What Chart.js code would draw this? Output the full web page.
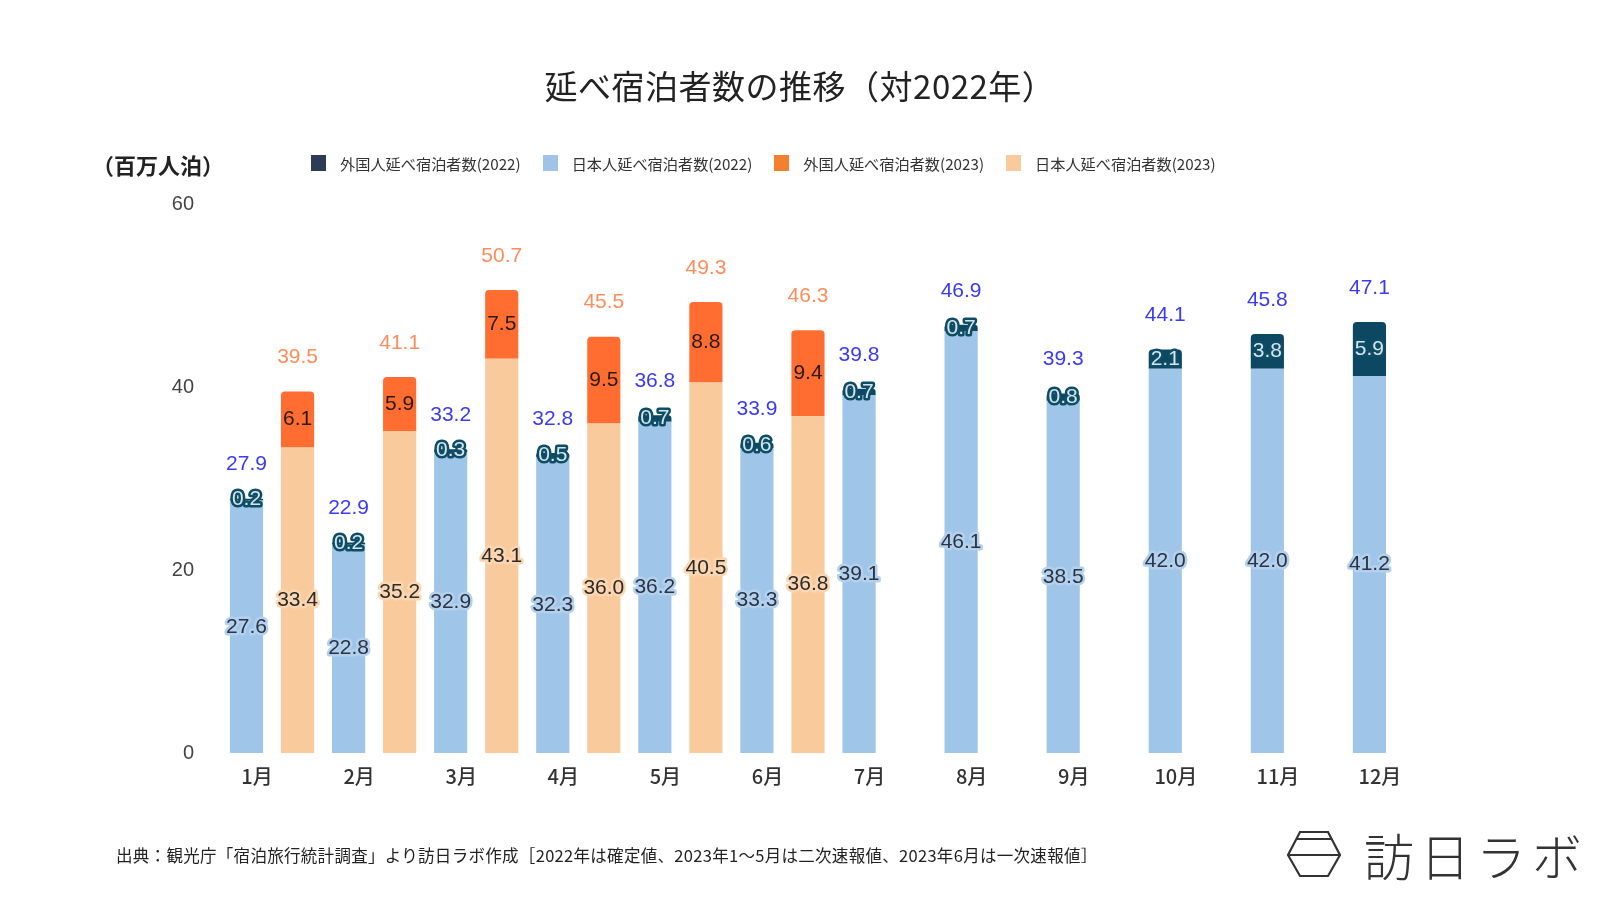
<!DOCTYPE html>
<html lang="ja">
<head>
<meta charset="utf-8">
<title>延べ宿泊者数の推移（対2022年）</title>
<script src="https://cdn.jsdelivr.net/npm/chart.js@4.4.1/dist/chart.umd.min.js"></script>
<style>
  html, body { margin: 0; padding: 0; background: #fff; }
  #wrap { position: relative; width: 1600px; height: 900px; overflow: hidden;
          font-family: "Noto Sans CJK JP", "Noto Sans", sans-serif; color: #333; }
  #chart { position: absolute; left: 0; top: 0; }
  .title { position: absolute; left: 0; width: 1600px; top: 61px; text-align: center;
           font-size: 33px; font-weight: 400; color: #222; letter-spacing: 0.5px; }
  .unit { position: absolute; left: 92px; top: 148px; font-size: 22px; font-weight: bold; color: #222; }
  .legend { position: absolute; left: 311px; top: 152px; display: flex; font-size: 15.2px; color: #333; }
  .legend .item { display: flex; align-items: center; margin-right: 22px; }
  .legend .sw { width: 15px; height: 16px; margin-right: 14px; }
  .source { position: absolute; left: 116px; top: 843px; font-size: 16.5px; color: #222; white-space: nowrap; letter-spacing: 0.3px; }
  .logo { position: absolute; left: 1286px; top: 829px; display: flex; align-items: center; }
  .logo span { font-size: 50px; font-weight: 300; color: #333; letter-spacing: 6px; margin-left: 22px; line-height: 1; }
</style>
</head>
<body>
<div id="wrap">
  <canvas id="chart" width="1600" height="900"></canvas>
  <div class="title">延べ宿泊者数の推移（対2022年）</div>
  <div class="unit">（百万人泊）</div>
  <div class="legend" id="legend"></div>
  <div class="source">出典：観光庁「宿泊旅行統計調査」より訪日ラボ作成［2022年は確定値、2023年1～5月は二次速報値、2023年6月は一次速報値］</div>
  <div class="logo">
    <svg width="56" height="48" viewBox="0 0 56 48">
      <polygon points="14,2 42,2 54,25 42,46 14,46 2,25" fill="none" stroke="#333" stroke-width="2.2"/>
      <line x1="10" y1="9" x2="46" y2="9" stroke="#333" stroke-width="2.2"/>
      <line x1="2" y1="25" x2="54" y2="25" stroke="#333" stroke-width="2.2"/>
    </svg>
    <span>訪日ラボ</span>
  </div>
</div>
<script>
// 月
const months = ['1月', '2月', '3月', '4月', '5月', '6月', '7月', '8月', '9月', '10月', '11月', '12月'];

// 2022年（確定値）
const japanese2022 = [27.6, 22.8, 32.9, 32.3, 36.2, 33.3, 39.1, 46.1, 38.5, 42.0, 42.0, 41.2];
const foreign2022  = [0.2, 0.2, 0.3, 0.5, 0.7, 0.6, 0.7, 0.7, 0.8, 2.1, 3.8, 5.9];
const total2022    = [27.9, 22.9, 33.2, 32.8, 36.8, 33.9, 39.8, 46.9, 39.3, 44.1, 45.8, 47.1];

// 2023年（1～6月）
const japanese2023 = [33.4, 35.2, 43.1, 36.0, 40.5, 36.8, null, null, null, null, null, null];
const foreign2023  = [6.1, 5.9, 7.5, 9.5, 8.8, 9.4, null, null, null, null, null, null];
const total2023    = [39.5, 41.1, 50.7, 45.5, 49.3, 46.3, null, null, null, null, null, null];

const yTicks = [0, 20, 40, 60];

const numFont = '21px "Liberation Sans", Arial, sans-serif';

// 凡例（表示順）
const legendItems = [
  { label: '外国人延べ宿泊者数(2022)', color: '#2e3b55' },
  { label: '日本人延べ宿泊者数(2022)', color: '#a0c4e8' },
  { label: '外国人延べ宿泊者数(2023)', color: '#f4802f' },
  { label: '日本人延べ宿泊者数(2023)', color: '#f9cb9c' }
];
const legendEl = document.getElementById('legend');
legendItems.forEach(it => {
  const d = document.createElement('div');
  d.className = 'item';
  d.innerHTML = `<div class="sw" style="background:${it.color}"></div><div>${it.label}</div>`;
  legendEl.appendChild(d);
});

// 棒の中・上の数値
const valueLabels = {
  id: 'valueLabels',
  afterDatasetsDraw(chart) {
    const ctx = chart.ctx;
    ctx.save();
    ctx.font = numFont;
    ctx.textAlign = 'center';
    ctx.textBaseline = 'middle';
    ctx.lineJoin = 'round';
    chart.data.datasets.forEach((ds, di) => {
      const meta = chart.getDatasetMeta(di);
      meta.data.forEach((bar, i) => {
        const v = ds.data[i];
        if (v == null) return;
        const y = (bar.y + bar.base) / 2;
        const txt = v.toFixed(1);
        if (ds.labelStroke) {
          ctx.strokeStyle = ds.labelStroke;
          ctx.lineWidth = 5;
          ctx.strokeText(txt, bar.x, y);
        }
        ctx.fillStyle = ds.labelColor;
        ctx.fillText(txt, bar.x, y);
        if (ds.totals) {
          ctx.fillStyle = ds.totalColor;
          ctx.fillText(ds.totals[i].toFixed(1), bar.x, bar.y - 34);
        }
      });
    });
    ctx.restore();
  }
};

new Chart(document.getElementById('chart'), {
  type: 'bar',
  data: {
    labels: months,
    datasets: [
      {
        label: '日本人延べ宿泊者数(2022)', data: japanese2022, stack: '2022',
        backgroundColor: '#9fc5e8', labelColor: '#2b3440', labelStroke: '#b3d1ee'
      },
      {
        label: '外国人延べ宿泊者数(2022)', data: foreign2022, stack: '2022',
        backgroundColor: '#0c4862', borderRadius: { topLeft: 4, topRight: 4 },
        labelColor: '#d3e6ee', labelStroke: '#0f4d66',
        totals: total2022, totalColor: '#3a3af2'
      },
      {
        label: '日本人延べ宿泊者数(2023)', data: japanese2023, stack: '2023',
        backgroundColor: '#f9cb9c', labelColor: '#2b2b2b', labelStroke: '#fbd6b0'
      },
      {
        label: '外国人延べ宿泊者数(2023)', data: foreign2023, stack: '2023',
        backgroundColor: '#ff6d31', borderRadius: { topLeft: 4, topRight: 4 },
        labelColor: '#2a1a10',
        totals: total2023, totalColor: '#ff8d5c'
      }
    ]
  },
  options: {
    responsive: false,
    animation: false,
    categoryPercentage: 1.0,
    barPercentage: 0.65,
    layout: { padding: { left: 161, right: 154, top: 204, bottom: 100 } },
    plugins: {
      legend: { display: false },
      title: { display: false },
      tooltip: { enabled: false }
    },
    scales: {
      x: {
        stacked: true,
        grid: { display: false },
        border: { display: false },
        afterFit: s => { s.height = 47; },
        ticks: {
          color: '#333',
          padding: 3,
          labelOffset: -15,
          font: { family: '"Noto Sans CJK JP", sans-serif', size: 20, weight: 500 }
        }
      },
      y: {
        stacked: true,
        min: 0,
        max: 60,
        grid: { display: false },
        border: { display: false },
        afterFit: s => { s.width = 60; },
        afterBuildTicks: s => { s.ticks = yTicks.map(v => ({ value: v })); },
        ticks: {
          color: '#444',
          padding: 19,
          font: { family: '"Liberation Sans", Arial, sans-serif', size: 20 }
        }
      }
    }
  },
  plugins: [valueLabels]
});
</script>
</body>
</html>
